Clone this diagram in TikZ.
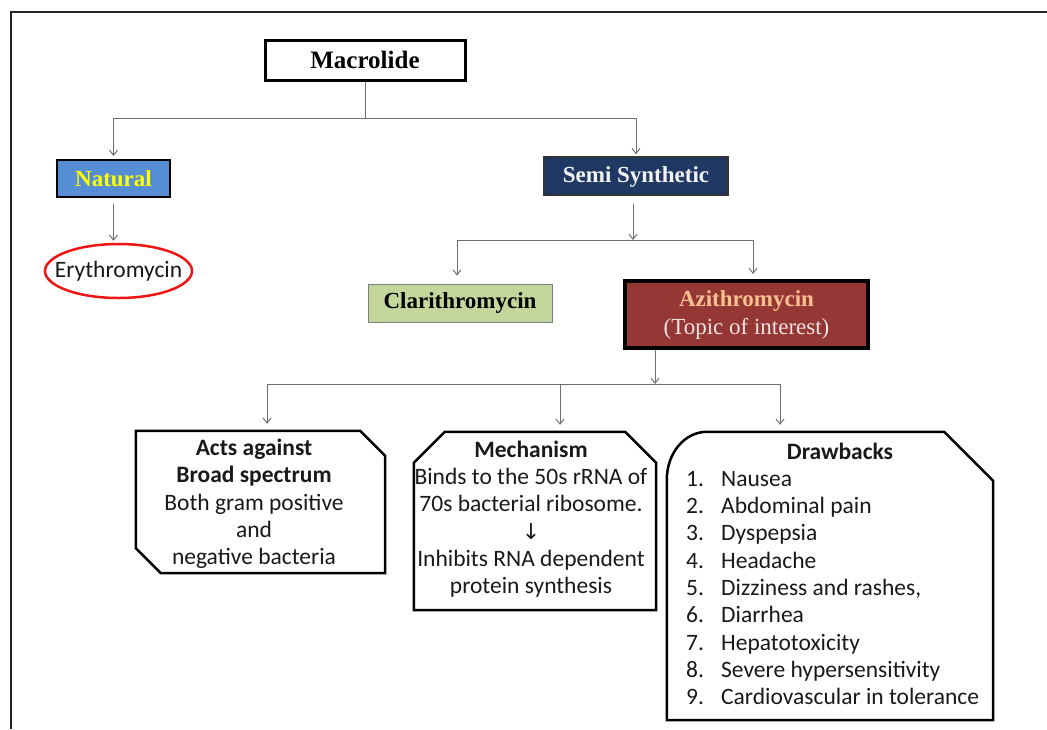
\documentclass[tikz,border=0pt]{standalone}
\usepackage{fontspec}
\setmainfont{Liberation Serif}
\newfontfamily\calfont{Carlito}
\newfontfamily\dvfont{DejaVu Sans}
\usetikzlibrary{arrows.meta,calc,shapes.geometric}
\definecolor{natblue}{RGB}{85,142,213}
\definecolor{natyel}{RGB}{255,255,0}
\definecolor{semiblue}{RGB}{31,56,100}
\definecolor{clargreen}{RGB}{195,214,155}
\definecolor{azred}{RGB}{149,55,53}
\definecolor{azpeach}{RGB}{250,192,144}
\definecolor{azlight}{RGB}{242,226,226}
\definecolor{ered}{RGB}{240,20,20}
\definecolor{txt}{RGB}{25,25,25}
\definecolor{conngray}{RGB}{110,110,110}
\begin{document}
\begin{tikzpicture}[x=1pt,y=-1pt]
\tikzset{
  conn/.style={draw=conngray, line width=1pt},
  arr/.style={conn, -{Straight Barb[length=5pt,width=8pt]}},
  tbox/.style={rectangle, inner sep=0pt, font=\fontsize{23}{28}\selectfont\bfseries},
  cbox/.style={inner sep=0pt, font=\calfont\fontsize{23.5}{27.3}\selectfont, text=txt, align=center},
  callout/.style={draw=black, line width=2.5pt, line join=miter},
  holder/.style={inner sep=0pt, draw=none}
}
\useasboundingbox (0,0) rectangle (1047,729);
\draw[line width=2.5pt, black!85] (11,729) -- (11,12) -- (1047,12);

% top level
\node[tbox, draw, line width=3pt, minimum width=200pt, minimum height=40pt,
      font=\fontsize{25}{28}\selectfont\bfseries] (macro) at (365,60) {Macrolide};
\node[tbox, draw, fill=natblue, text=natyel, line width=2pt,
      minimum width=113pt, minimum height=37pt] (nat) at (113.5,178.5) {Natural};
\node[holder, minimum width=147pt, minimum height=54pt,
      font=\calfont\fontsize{23.5}{27}\selectfont, text=txt] (ery) at (118.5,271) {Erythromycin};
\draw[draw=ered, line width=2.5pt] (ery.center) ellipse [x radius=73.5pt, y radius=27pt];
\node[tbox, draw=black!80, fill=semiblue, text=white!95!black, line width=1.5pt,
      minimum width=184pt, minimum height=38pt, text depth=3pt] (semi) at (636,176) {Semi Synthetic};
\node[tbox, draw=gray, fill=clargreen, line width=1pt,
      minimum width=184pt, minimum height=38pt] (clar) at (460,303) {Clarithromycin};
\node[tbox, draw, fill=azred, line width=4pt, minimum width=243pt, minimum height=67pt,
      align=center] (azi) at (746.5,314.5)
      {\textcolor{azpeach}{Azithromycin}\\{\mdseries\textcolor{azlight}{(Topic of interest)}}};

% callout holders
\node[holder, minimum width=249pt, minimum height=142pt] (acts) at (260.5,502) {};
\node[holder, minimum width=242pt, minimum height=178pt] (mech) at (535,521) {};
\node[holder, minimum width=326pt, minimum height=288pt] (drw) at (830,576) {};

\draw[callout] (acts.north west) -- ($(acts.north east)+(-25,0)$) -- ($(acts.north east)+(0,25)$)
  -- (acts.south east) -- ($(acts.south west)+(25,0)$) -- ($(acts.south west)+(0,-25)$) -- cycle;
\draw[callout] ($(mech.north west)+(0,31)$) -- ($(mech.north west)+(31,0)$) -- ($(mech.north east)+(-31,0)$)
  -- ($(mech.north east)+(0,31)$) -- (mech.south east) -- (mech.south west) -- cycle;
\draw[callout] (drw.south west) -- ($(drw.north west)+(0,48)$)
  .. controls ($(drw.north west)+(0,21)$) and ($(drw.north west)+(18,0)$) .. ($(drw.north west)+(40,0)$)
  -- ($(drw.north east)+(-49,0)$) -- ($(drw.north east)+(0,49)$) -- (drw.south east) -- cycle;

% callout texts
\node[cbox] (actstxt) at (254,504)
  {\textbf{Acts against}\\\textbf{Broad spectrum}\\Both gram positive\\and\\negative bacteria};
\node[cbox] (mechtxt) at (531,519)
  {\textbf{Mechanism}\\Binds to the 50s rRNA of\\70s bacterial ribosome.\\{\dvfont\fontsize{22}{27.3}\selectfont ↓}\\Inhibits RNA dependent\\protein synthesis};
\node[cbox] (drwtitle) at (840,451) {\textbf{Drawbacks}};
\node[cbox, align=left, anchor=north west] (drwlist) at (686,471)
  {\makebox[35pt][l]{1.}Nausea\\
   \makebox[35pt][l]{2.}Abdominal pain\\
   \makebox[35pt][l]{3.}Dyspepsia\\
   \makebox[35pt][l]{4.}Headache\\
   \makebox[35pt][l]{5.}Dizziness and rashes,\\
   \makebox[35pt][l]{6.}Diarrhea\\
   \makebox[35pt][l]{7.}Hepatotoxicity\\
   \makebox[35pt][l]{8.}Severe hypersensitivity\\
   \makebox[35pt][l]{9.}Cardiovascular in tolerance};

% connectors
\coordinate (j1) at (365,118);
\draw[conn] (macro.south) -- (j1);
\draw[arr, shorten >=3pt] (j1) -| (nat.north);
\draw[arr, shorten >=2pt] (j1) -| (semi.north);
\draw[arr, shorten <=6pt, shorten >=3pt] (nat.south) -- (nat.south |- ery.north);

\coordinate (j2) at (633,240);
\draw[arr, shorten <=8pt] (semi.south -| j2) -- (j2);
\draw[arr, shorten >=8pt] (j2) -| ([xshift=-3pt]clar.north);
\draw[arr, shorten >=5pt] (j2) -| ([xshift=6.5pt]azi.north);

\coordinate (j3) at (655,384);
\draw[arr] (azi.south -| j3) -- (j3);
\draw[arr, shorten >=7pt] (j3) -| ([xshift=6.5pt]acts.north);
\draw[arr, shorten >=7pt] (j3) -| ([xshift=25pt]mech.north);
\draw[arr, shorten >=7pt] (j3) -| ([xshift=-50pt]drw.north);
\end{tikzpicture}
\end{document}
